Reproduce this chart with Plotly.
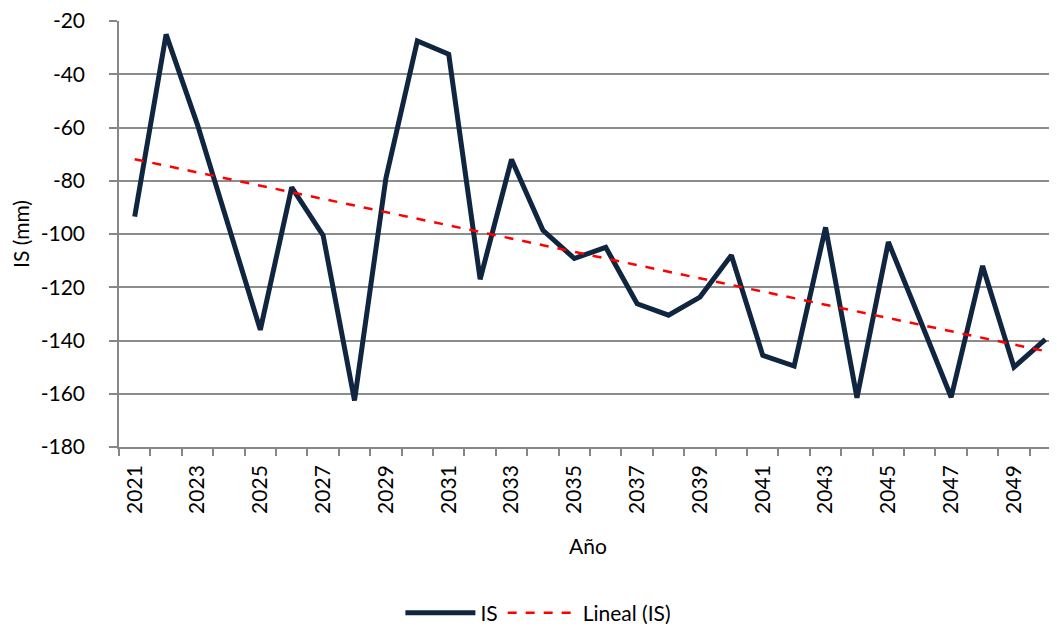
import numpy as np
import plotly.graph_objects as go

years = list(range(2021, 2051))
is_values = [-93.5, -25, -59, -98, -136, -82.5, -100.5, -162.5, -79, -27.5,
             -32.5, -117, -72, -98.6, -109.2, -105, -126.2, -130.5, -123.7, -108,
             -145.6, -149.6, -97.5, -161.5, -103, -132, -161.3, -112, -150, -139.6]
tick_years = list(range(2021, 2050, 2))
y_ticks = [-20, -40, -60, -80, -100, -120, -140, -160, -180]

x = np.array(years, dtype=float)
y = np.array(is_values, dtype=float)
slope, intercept = np.polyfit(x, y, 1)
trend = slope * x + intercept

FONT = "Lato"
FS = 21
fig = go.Figure()
fig.add_trace(go.Scatter(x=years, y=is_values, mode="lines", name="IS",
                         line=dict(color="#10253f", width=5)))
fig.add_trace(go.Scatter(x=years, y=trend, mode="lines", name="Lineal (IS)",
                         line=dict(color="#ff0000", width=2.5, dash="dash")))

fig.update_layout(
    width=1049, height=621,
    margin=dict(l=111, r=0, t=13, b=182, autoexpand=False),
    paper_bgcolor="white", plot_bgcolor="white",
    font=dict(family=FONT, size=FS, color="#000000"),
    showlegend=True,
    legend=dict(orientation="h", x=0.30, xanchor="left", y=-0.39, yanchor="middle",
                font=dict(size=FS), itemwidth=70),
    xaxis=dict(
        range=[2020.5, 2050.37], automargin=False,
        tickmode="array", tickvals=tick_years, ticktext=[str(t) for t in tick_years],
        tickangle=-90, ticks="", showgrid=False, ticklabelstandoff=8,
        showline=True, linecolor="#868686", linewidth=1.5,
        minor=dict(tickmode="array", tickvals=[yy - 0.5 for yy in years] + [2050.5],
                   ticks="outside", ticklen=7, tickcolor="#868686", tickwidth=1.5,
                   showgrid=False),
        title=dict(text="Año", standoff=26, font=dict(size=FS)),
        zeroline=False,
    ),
    yaxis=dict(
        range=[-180, -20], automargin=False, tickmode="array", tickvals=y_ticks,
        ticktext=[str(v) for v in y_ticks], ticklabeloverflow="allow",
        ticks="outside", ticklen=8, tickcolor="#868686", tickwidth=1.5,
        showgrid=True, gridcolor="#8c8c8c", gridwidth=1.5,
        showline=True, linecolor="#868686", linewidth=1.5,
        ticklabelstandoff=20,
        title=dict(text="IS (mm)", standoff=18, font=dict(size=FS)),
        zeroline=False,
    ),
)

fig.write_html("out.html")
